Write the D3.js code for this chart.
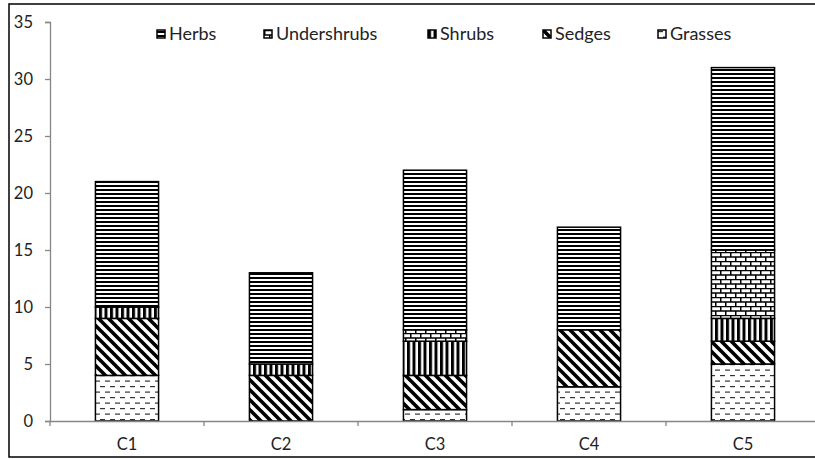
<!DOCTYPE html>
<html><head><meta charset="utf-8">
<script src="https://cdn.jsdelivr.net/npm/d3@7"></script>
<style>body{margin:0;background:#fff}svg{display:block;font-family:Lato,"Liberation Sans",sans-serif}</style>
</head><body><svg id="c" width="815" height="459"></svg>
<script>
const categories = ["C1","C2","C3","C4","C5"];
const grasses     = [4, 0, 1, 3, 5];
const sedges      = [5, 4, 3, 5, 2];
const shrubs      = [1, 1, 3, 0, 2];
const undershrubs = [0, 0, 1, 0, 6];
const herbs       = [11, 8, 14, 9, 16];
const yTicks = [0,5,10,15,20,25,30,35];
const stackKeys = ["Grasses","Sedges","Shrubs","Undershrubs","Herbs"];
const legendKeys = ["Herbs","Undershrubs","Shrubs","Sedges","Grasses"];

const seriesMap = {Grasses:grasses, Sedges:sedges, Shrubs:shrubs, Undershrubs:undershrubs, Herbs:herbs};
const table = categories.map((c,i)=>{const o={cat:c}; stackKeys.forEach(k=>o[k]=seriesMap[k][i]); return o;});

const svg = d3.select("#c");
const defs = svg.append("defs");
function pat(id,w,h,draw){
  const p = defs.append("pattern").attr("id",id).attr("patternUnits","userSpaceOnUse").attr("width",w).attr("height",h);
  p.append("rect").attr("width",w).attr("height",h).attr("fill","#fff");
  draw(p);
}
pat("p-Herbs",4,4,p=>p.append("rect").attr("y",1).attr("width",4).attr("height",2).attr("fill","#000"));
pat("p-Shrubs",5.5,4,p=>p.append("rect").attr("x",0).attr("width",3).attr("height",4).attr("fill","#000"));
pat("p-Sedges",10,10,p=>p.append("path").attr("d","M0,0L10,10M-5,5L5,15M5,-5L15,5M-10,0L0,10M0,-10L10,0").attr("stroke","#000").attr("stroke-width",3.6));
pat("p-Grasses",10,11,p=>{
  p.append("rect").attr("x",0).attr("y",1).attr("width",5).attr("height",1.2).attr("fill","#333");
  p.append("rect").attr("x",5).attr("y",6.5).attr("width",5).attr("height",1.2).attr("fill","#333");
});
pat("p-Undershrubs",10,9,p=>{
  p.append("path").attr("d","M0,0.5H10M0,5H10M0.75,0.5V5M5.75,5V9.5").attr("stroke","#000").attr("stroke-width",1.5).attr("fill","none");
});

const x = d3.scaleBand().domain(categories).range([50,820]).paddingInner(0).paddingOuter(0);
const y = d3.scaleLinear().domain([0,35]).range([421,22]);
const barW = x.bandwidth()*0.41;

// outer border
svg.append("rect").attr("x",9).attr("y",4).attr("width",830).attr("height",453).attr("fill","none").attr("stroke","#000").attr("stroke-width",1.5);

// y axis
const yAxis = svg.append("g").attr("transform","translate(50,0)")
  .call(d3.axisLeft(y).tickValues(yTicks).tickSize(5).tickPadding(12));
yAxis.select(".domain").attr("stroke","#868686").attr("stroke-width",1.3);
yAxis.selectAll(".tick line").attr("stroke","#868686").attr("stroke-width",1.3);
yAxis.selectAll("text").attr("fill","#222").style("font-size","16.5px").style("font-family","Lato");

// bars
const stacked = d3.stack().keys(stackKeys)(table);
svg.append("g").selectAll("g").data(stacked).join("g")
  .attr("fill",d=>`url(#p-${d.key})`)
  .selectAll("rect").data(d=>d.filter(s=>s[1]-s[0]>0)).join("rect")
  .attr("x",d=>x(d.data.cat)+(x.bandwidth()-barW)/2)
  .attr("width",barW)
  .attr("y",d=>y(d[1]))
  .attr("height",d=>y(d[0])-y(d[1]))
  .attr("stroke","#000").attr("stroke-width",1.5);

// x axis
const xAxis = svg.append("g").attr("transform","translate(0,421)")
  .call(d3.axisBottom(x).tickSize(0).tickPadding(17));
xAxis.select(".domain").attr("stroke","#868686").attr("stroke-width",1.3);
xAxis.selectAll("text").attr("fill","#222").style("font-size","16.5px").style("font-family","Lato");
// boundary ticks
const bounds = categories.map(c=>x(c)).concat([x.range()[1]]);
svg.append("g").selectAll("line").data(bounds).join("line")
  .attr("x1",d=>d).attr("x2",d=>d).attr("y1",421).attr("y2",426)
  .attr("stroke","#868686").attr("stroke-width",1.3);

// legend
const legX = [157,264,428,543,658];
const leg = svg.append("g").selectAll("g").data(legendKeys).join("g")
  .attr("transform",(d,i)=>`translate(${legX[i]},30)`);
leg.append("rect").attr("width",8).attr("height",8).attr("fill",d=>`url(#p-${d})`).attr("stroke","#000").attr("stroke-width",1.5);
leg.append("text").attr("x",12).attr("y",4).attr("dy","0.35em").text(d=>d)
  .style("font-size","18px").attr("fill","#222");
</script></body></html>
